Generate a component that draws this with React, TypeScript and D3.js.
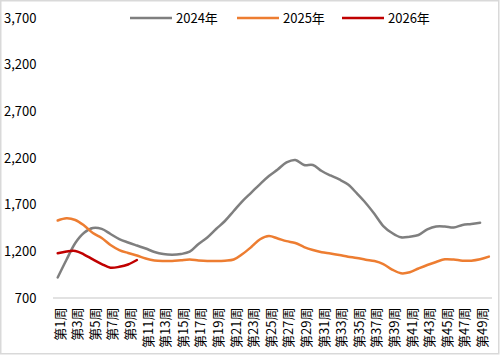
import React from "react";
import * as d3 from "d3";

const weeks: number[] = Array.from({ length: 50 }, (_, i) => i + 1);
const yTicks: number[] = [700, 1200, 1700, 2200, 2700, 3200, 3700];

const s2024: number[] = [
  920, 1110, 1290, 1400, 1450, 1440, 1386, 1332, 1295, 1262,
  1230, 1193, 1171, 1164, 1171, 1196, 1279, 1348, 1439, 1525,
  1632, 1739, 1830, 1921, 2007, 2077, 2152, 2179, 2125, 2125,
  2061, 2013, 1970, 1916, 1820, 1718, 1600, 1471, 1396, 1350,
  1357, 1375, 1434, 1466, 1466, 1455, 1482, 1493, 1507,
];
const s2025: number[] = [
  1530, 1554, 1536, 1477, 1396, 1343, 1268, 1214, 1182, 1155,
  1123, 1102, 1096, 1096, 1104, 1112, 1102, 1096, 1096, 1100,
  1112, 1171, 1246, 1329, 1364, 1338, 1309, 1289, 1246, 1214,
  1190, 1177, 1161, 1143, 1129, 1110, 1096, 1064, 1005, 965,
  975, 1016, 1054, 1086, 1115, 1112, 1100, 1100, 1115, 1143,
];
const s2026: number[] = [1179, 1198, 1204, 1166, 1113, 1064, 1024, 1034, 1059, 1107];

const seriesNames: string[] = ["2024年", "2025年", "2026年"];
const seriesColors: string[] = ["#7F7F7F", "#ED7D31", "#C00000"];
const seriesData: number[][] = [s2024, s2025, s2026];

const W = 501;
const H = 356;
const FONT = '"Microsoft YaHei", "Noto Sans CJK SC", "Noto Sans", sans-serif';

export default function App() {
  const x = d3
    .scaleBand<number>()
    .domain(weeks)
    .range([53.3, 493.3])
    .paddingInner(0)
    .paddingOuter(0);
  const cx = (w: number) => (x(w) as number) + x.bandwidth() / 2;
  const y = d3.scaleLinear().domain([700, 3700]).range([298, 18]);

  const line = d3
    .line<number>()
    .x((_, i) => cx(weeks[i]))
    .y((d) => y(d))
    .curve(d3.curveCatmullRom.alpha(0.5));

  const legendX = [130, 237, 342];

  return (
    <svg
      width={W}
      height={H}
      style={{ position: "absolute", left: 0, top: 0, background: "#fff" }}
      fontFamily={FONT}
    >
      <rect x={0.75} y={0.75} width={W - 3} height={H - 3} fill="#fff" stroke="#D9D9D9" strokeWidth={1.5} />
      {yTicks.map((t) => (
        <text
          key={t}
          x={36.5}
          y={y(t)}
          dy="0.35em"
          textAnchor="end"
          fontSize={13}
          fill="#000"
        >
          {d3.format(",")(t)}
        </text>
      ))}
      <line x1={53} x2={492} y1={298} y2={298} stroke="#D9D9D9" strokeWidth={1.5} />
      {weeks
        .filter((w) => w % 2 === 1)
        .map((w) => (
          <text
            key={w}
            transform={`translate(${cx(w) + 2.3},${307.5}) rotate(-90)`}
            dy="0.35em"
            textAnchor="end"
            fontSize={13}
            fill="#000"
          >
            {`第${w}周`}
          </text>
        ))}
      {seriesData.map((s, i) => (
        <path
          key={seriesNames[i]}
          d={line(s) || ""}
          fill="none"
          stroke={seriesColors[i]}
          strokeWidth={2.5}
          strokeLinejoin="round"
          strokeLinecap="round"
        />
      ))}
      {seriesNames.map((n, i) => (
        <g key={n} transform={`translate(${legendX[i]},18)`}>
          <line x1={0} x2={42} y1={0} y2={0} stroke={seriesColors[i]} strokeWidth={2.5} />
          <text x={46} y={0} dy="0.35em" fontSize={13} fill="#000">
            {n}
          </text>
        </g>
      ))}
    </svg>
  );
}
